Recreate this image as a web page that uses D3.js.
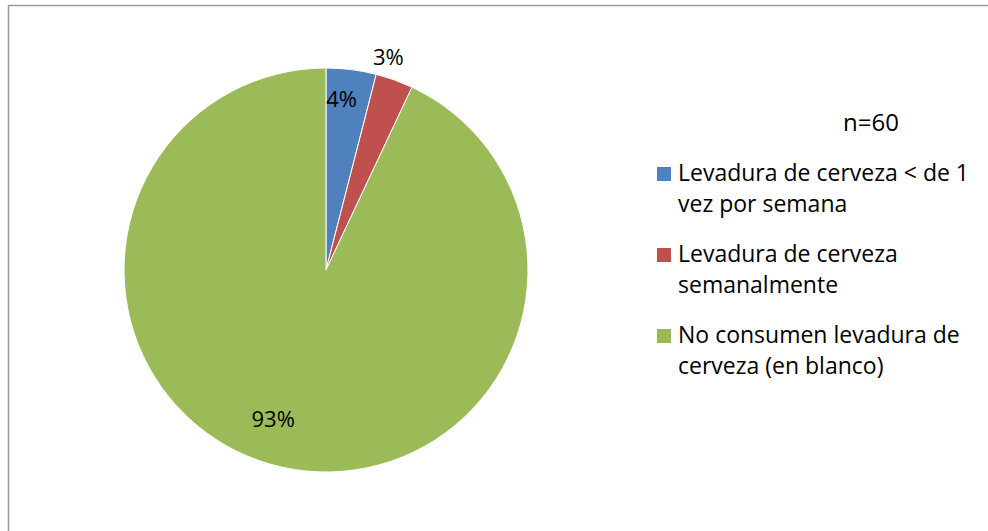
<!DOCTYPE html>
<html>
<head>
<meta charset="utf-8">
<script src="https://cdn.jsdelivr.net/npm/d3@7"></script>
<style>
  html, body { margin: 0; padding: 0; background: #fff; }
  svg text { font-family: "Open Sans", "Noto Sans", sans-serif; fill: #000; }
</style>
</head>
<body>
<svg id="chart" width="988" height="531"></svg>
<script>
// Categories, values (percent) and colours of the pie
const categories = [
  ["Levadura de cerveza < de 1", "vez por semana"],
  ["Levadura de cerveza", "semanalmente"],
  ["No consumen levadura de", "cerveza (en blanco)"]
];
const values = [4, 3, 93];
const colors = ["#4F81BD", "#C0504D", "#9BBB59"];
const sampleLabel = "n=60";

const svg = d3.select("#chart");

// Chart area frame
svg.append("path")
  .attr("d", "M8.5,531 L8.5,5.5 L988,5.5")
  .attr("fill", "none")
  .attr("stroke", "#9a9a9a")
  .attr("stroke-width", 1.5);

const cx = 326, cy = 270, r = 202;
const pie = d3.pie().sort(null).value(d => d);
const arcs = pie(values);
const arc = d3.arc().innerRadius(0).outerRadius(r);

const g = svg.append("g").attr("transform", `translate(${cx},${cy})`);
g.selectAll("path.slice")
  .data(arcs)
  .join("path")
  .attr("class", "slice")
  .attr("d", arc)
  .attr("fill", (d, i) => colors[i])
  .attr("stroke", "#fff")
  .attr("stroke-width", 1);

// Percentage labels: radius factor along the bisector plus a small nudge
const labelPlace = [
  { k: 0.85, dx: -6, dy: 0 },
  { k: 1.10, dx: -13, dy: -4 },
  { k: 0.79, dx: -18, dy: -6 }
];
g.selectAll("text.pct")
  .data(arcs)
  .join("text")
  .attr("class", "pct")
  .attr("transform", (d, i) => {
    const p = labelPlace[i];
    const [x, y] = d3.arc().innerRadius(r * p.k).outerRadius(r * p.k).centroid(d);
    return `translate(${x + p.dx},${y + p.dy})`;
  })
  .attr("text-anchor", "middle")
  .attr("dy", "0.35em")
  .attr("font-size", 22)
  .text(d => d.value + "%");

// Sample size
svg.append("text")
  .attr("x", 871).attr("y", 131)
  .attr("text-anchor", "middle")
  .attr("font-size", 24)
  .text(sampleLabel);

// Legend
const legendTop = [181, 262, 343];
const leg = svg.selectAll("g.leg")
  .data(categories)
  .join("g")
  .attr("class", "leg")
  .attr("transform", (d, i) => `translate(657,${legendTop[i]})`);
leg.append("rect")
  .attr("x", 0).attr("y", -14)
  .attr("width", 14).attr("height", 14)
  .attr("fill", (d, i) => colors[i]);
leg.each(function(lines) {
  const t = d3.select(this).append("text").attr("font-size", 23);
  lines.forEach((line, j) => {
    t.append("tspan").attr("x", 21).attr("y", j * 31).text(line);
  });
});
</script>
</body>
</html>
